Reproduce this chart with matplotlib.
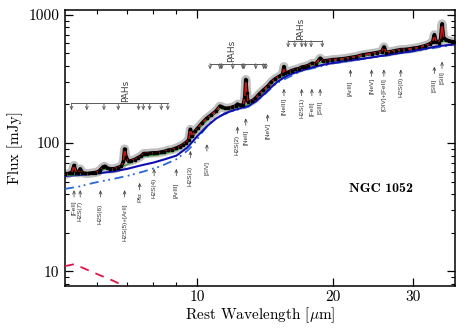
import numpy as np
import matplotlib
matplotlib.use("Agg")
import matplotlib.pyplot as plt
from matplotlib.ticker import FixedLocator, NullFormatter, FixedFormatter

plt.rcParams['font.family'] = 'serif'
plt.rcParams['font.serif'] = ['cmr10']
plt.rcParams['mathtext.fontset'] = 'cm'
plt.rcParams['axes.unicode_minus'] = False

# observed spectrum (micron, mJy)
wave = [5.10, 5.20, 5.28, 5.34, 5.40, 5.46, 5.51, 5.57, 5.65, 5.75, 5.85, 5.95,
        6.05, 6.11, 6.18, 6.24, 6.32, 6.42, 6.55, 6.68, 6.80, 6.87, 6.91, 6.96,
        7.05, 7.15, 7.28, 7.40, 7.50, 7.62, 7.75, 7.88, 8.02, 8.15, 8.30, 8.45,
        8.62, 8.80, 8.99, 9.15, 9.30, 9.45, 9.58, 9.66, 9.75, 9.90, 10.05, 10.25,
        10.50, 10.75, 11.00, 11.23, 11.33, 11.50, 11.70, 11.95, 12.20, 12.28,
        12.45, 12.65, 12.75, 12.81, 12.88, 12.95, 13.20, 13.45, 13.70, 14.00,
        14.32, 14.60, 14.90, 15.20, 15.45, 15.56, 15.65, 15.90, 16.20, 16.50,
        16.80, 17.03, 17.30, 17.60, 17.94, 18.30, 18.71, 19.00, 19.40, 19.90,
        20.50, 21.20, 21.83, 22.50, 23.30, 24.32, 25.00, 25.60, 25.90, 26.20,
        26.80, 27.50, 28.22, 29.00, 30.00, 31.00, 32.00, 32.80, 33.20, 33.48,
        33.80, 34.20, 34.55, 34.82, 35.10, 35.50, 36.00, 36.60, 37.20]
flux = [57, 58, 59, 67, 59, 58.5, 63, 59, 58, 58, 58.5, 59,
        60, 62, 65, 66, 64, 63, 63, 64.5, 66, 72, 90, 78,
        72, 73, 74.5, 77, 79, 83, 83, 83.5, 84, 84, 85, 86,
        88, 89, 91.5, 94, 97, 101, 106, 128, 114, 124, 132, 143,
        156, 166, 177, 194, 192, 187, 187, 190, 196, 201,
        197, 199, 230, 313, 244, 210, 212, 223, 240, 258,
        277, 300, 318, 331, 343, 395, 352, 357, 368, 375,
        381, 390, 395, 402, 418, 415, 458, 438, 440, 447,
        450, 456, 464, 472, 488, 499, 507, 516, 562, 508,
        516, 526, 535, 537, 547, 557, 575, 596, 615, 700,
        618, 607, 640, 850, 660, 640, 628, 618, 615]

# PAH + continuum model
wave_pah = [5.10, 6.00, 6.24, 6.50, 7.00, 7.62, 8.00, 8.60, 9.00, 9.50, 10.00,
            11.23, 11.50, 12.00, 12.60, 13.00, 14.00, 15.00, 16.00, 17.00, 18.00,
            19.00, 20.00, 22.00, 25.00, 28.00, 30.00, 33.00, 35.00, 37.20]
flux_pah = [56, 58, 63, 61.5, 68, 79, 80, 84, 88, 98, 126,
            188, 183, 187, 194, 200, 252, 318, 352, 382, 408,
            430, 442, 464, 500, 528, 542, 595, 622, 608]

# continuum
wave_cont = [5.1, 5.5, 6.0, 6.5, 7.0, 7.5, 8.0, 8.5, 9.0, 9.5, 9.8, 10.0, 10.5,
             11.0, 11.5, 12.0, 12.5, 13.0, 13.5, 14.0, 14.5, 15.0, 15.5, 16.0,
             17.0, 18.0, 19.0, 20.0, 22.0, 24.0, 26.0, 28.0, 30.0, 32.0, 34.0, 37.2]
flux_cont = [55.5, 56.5, 58, 60, 63, 67, 70.5, 75, 80, 92, 104, 113, 135,
             155, 170, 180, 188, 196, 212, 238, 268, 298, 322, 342,
             368, 390, 408, 422, 443, 462, 483, 503, 522, 545, 568, 590]

# hot dust component
wave_hot = [5.1, 5.5, 5.9, 6.5, 7.0, 7.6, 8.3, 9.0, 9.5, 9.8, 10.2, 10.7, 11.2,
            12.0, 13.0, 14.0, 15.0, 17.0, 20.0, 25.0, 30.0, 37.2]
flux_hot = [44, 46, 49, 52.5, 55.5, 60, 66, 75, 87, 97, 118, 145, 162,
            178, 192, 234, 294, 365, 418, 470, 518, 586]

# stellar component
wave_star = [5.1, 5.35, 5.9, 6.5, 7.0, 7.5]
flux_star = [11.0, 11.4, 9.8, 8.5, 7.5, 6.8]

# PAH features
pah_groups = [[5.27, 5.70, 6.22, 6.69, 7.42, 7.60, 7.85, 8.33, 8.61],
              [10.68, 11.23, 11.33, 11.99, 12.62, 12.69, 13.48, 14.04, 14.19],
              [15.90, 16.45, 17.04, 17.375, 17.87, 18.92]]
pah_bar = [204, 417, 628]
pah_tip = [180, 375, 555]
pah_label_x = [6.93, 11.9, 16.9]

# emission lines
line_names = ['[FeII]', 'H2S(7)', 'H2S(6)', 'H2S(5)+[ArII]', 'Pfα', 'H2S(4)',
              '[ArIII]', 'H2S(3)', '[SIV]', 'H2S(2)', '[NeII]', '[NeV]', '[NeIII]',
              'H2S(1)', '[FeII]', '[SIII]', '[ArIII]', '[NeV]', '[OIV]+[FeII]',
              'H2S(0)', '[SIII]', '[SiII]']
line_wave = [5.34, 5.51, 6.11, 6.91, 7.46, 8.03, 8.99, 9.66, 10.51, 12.28, 12.81,
             14.32, 15.56, 17.03, 17.94, 18.71, 21.83, 24.32, 25.89, 28.22, 33.48, 34.82]
line_text_top = [35.5, 35.5, 33.7, 33.7, 41, 53.5, 49, 66, 72.5, 115, 128,
                 143, 223, 225, 212, 212, 308, 319, 319, 331, 319, 361]
line_arrow_tip = [43, 43, 43, 43, 49, 63, 63, 87, 98, 135, 156,
                  168, 265, 265, 265, 265, 375, 375, 375, 375, 395, 432]

fig = plt.figure(figsize=(4.69, 3.30), dpi=100)
ax = fig.add_axes([0.1386, 0.1333, 0.8316, 0.8364])

ax.plot(wave, flux, color='0.75', lw=6.5, solid_joinstyle='round', zorder=1)
ax.plot(wave, flux, color='black', lw=2.6, zorder=2)
ax.plot(wave_hot, flux_hot, color='#2a66d6', lw=1.3, dashes=(5, 2.5, 1, 2, 1, 2.5), zorder=3)
ax.plot(wave_star, flux_star, color='#dc1448', lw=1.3, dashes=(5, 4), zorder=3)
ax.plot(wave_cont, flux_cont, color='#1010b0', lw=1.5, zorder=4)
ax.plot(wave_pah, flux_pah, color='#30a030', lw=0.9, zorder=4)
ax.plot(wave, flux, color='#c01818', lw=1.2, zorder=5)
ax.plot(wave, flux, 's', color='black', ms=2.0, zorder=6)

ax.set_xscale('log')
ax.set_yscale('log')
ax.set_xlim(5.1, 37.2)
ax.set_ylim(7.7, 1090)

arrow_style = '->,head_length=0.22,head_width=0.1'

# PAH brackets
for grp, ybar, ytip, xl in zip(pah_groups, pah_bar, pah_tip, pah_label_x):
    ax.plot([grp[0], grp[-1]], [ybar, ybar], color='0.35', lw=0.7)
    for w in grp:
        ax.annotate('', xy=(w, ytip), xytext=(w, ybar),
                    arrowprops=dict(arrowstyle=arrow_style, color='0.35', lw=0.6,
                                    shrinkA=0, shrinkB=0))
    ax.text(xl, ybar * 1.02, 'PAHs', rotation=90, ha='center', va='bottom',
            fontsize=6.5, family='DejaVu Sans', color='0.25')

# line identifications
for name, w, top, tip in zip(line_names, line_wave, line_text_top, line_arrow_tip):
    ax.annotate('', xy=(w, tip), xytext=(0, -5), textcoords='offset points',
                arrowprops=dict(arrowstyle=arrow_style, color='0.2', lw=0.5,
                                shrinkA=0, shrinkB=0))
    ax.text(w, top, name, rotation=90, ha='center', va='top', fontsize=4.6,
            family='Liberation Sans', color='0.2')

ax.text(0.81, 0.35, 'NGC 1052', transform=ax.transAxes, ha='center', va='center',
        fontsize=10, family='cmb10')

ax.xaxis.set_major_locator(FixedLocator([10, 20, 30]))
ax.xaxis.set_major_formatter(FixedFormatter(['10', '20', '30']))
ax.xaxis.set_minor_locator(FixedLocator([6, 7, 8, 9]))
ax.xaxis.set_minor_formatter(NullFormatter())
ax.yaxis.set_major_locator(FixedLocator([10, 100, 1000]))
ax.yaxis.set_major_formatter(FixedFormatter(['10', '100', '1000']))
ax.yaxis.set_minor_locator(FixedLocator([8, 9, 20, 30, 40, 50, 60, 70, 80, 90,
                                         200, 300, 400, 500, 600, 700, 800, 900]))
ax.yaxis.set_minor_formatter(NullFormatter())

ax.tick_params(which='both', direction='in', top=True, right=True, labelsize=11)
ax.tick_params(axis='x', which='major', pad=3)
ax.tick_params(axis='y', which='major', pad=4)
ax.tick_params(which='major', length=5.5, width=0.9)
ax.tick_params(which='minor', length=3, width=0.8)
for s in ax.spines.values():
    s.set_linewidth(1.1)

ax.set_xlabel(r'Rest Wavelength [$\mu$m]', fontsize=11, labelpad=1)
ax.set_ylabel('Flux [mJy]', fontsize=11, labelpad=4)

fig.savefig('out.png', dpi=100)
